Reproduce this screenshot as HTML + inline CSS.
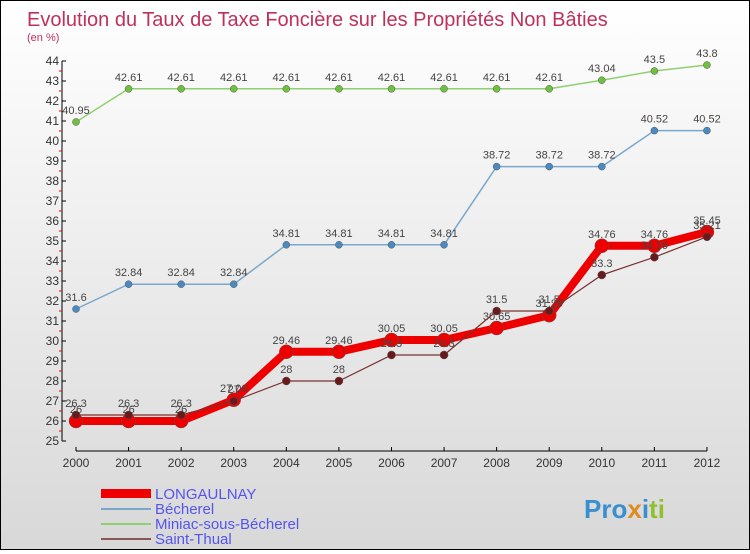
<!DOCTYPE html>
<html><head><meta charset="utf-8"><style>
body{margin:0;width:750px;height:550px;overflow:hidden;font-family:"Liberation Sans",sans-serif}
#c{position:relative;width:748px;height:548px;border:1px solid #000;background:linear-gradient(#fff,#d8d8d8)}
</style></head><body>
<div id="c">
<svg id="s" width="748" height="548">
<text x="26" y="25" font-size="20" fill="#c0305a">Evolution du Taux de Taxe Foncière sur les Propriétés Non Bâties</text>
<text x="26" y="40" font-size="11" fill="#c0305a">(en %)</text>
<g id="g"></g>
<g>
<rect x="100" y="488" width="50" height="9" fill="#e00"/>
<text x="154" y="498" font-size="15" fill="#5555ee">LONGAULNAY</text>
<rect x="100" y="507" width="50" height="2" fill="#7aa8cc"/>
<text x="154" y="513" font-size="15" fill="#5555ee">Bécherel</text>
<rect x="100" y="522" width="50" height="2" fill="#90d070"/>
<text x="154" y="528" font-size="15" fill="#5555ee">Miniac-sous-Bécherel</text>
<rect x="100" y="537" width="50" height="2" fill="#8a5555"/>
<text x="154" y="543" font-size="15" fill="#5555ee">Saint-Thual</text>
</g>
<text x="583" y="517" font-size="26" font-weight="bold"><tspan fill="#3a8fd0">Pro</tspan><tspan fill="#e08a20">x</tspan><tspan fill="#3a8fd0">i</tspan><tspan fill="#90c030">ti</tspan></text>
</svg></div>
<script>
const years=[2000,2001,2002,2003,2004,2005,2006,2007,2008,2009,2010,2011,2012];
const longaulnay=[26,26,26,27.06,29.46,29.46,30.05,30.05,30.65,31.29,34.76,34.76,35.45];
const becherel=[31.6,32.84,32.84,32.84,34.81,34.81,34.81,34.81,38.72,38.72,38.72,40.52,40.52];
const miniac=[40.95,42.61,42.61,42.61,42.61,42.61,42.61,42.61,42.61,42.61,43.04,43.5,43.8];
const saintThual=[26.3,26.3,26.3,27,28,28,29.3,29.3,31.5,31.5,33.3,34.19,35.21];
const yTicks=[25,26,27,28,29,30,31,32,33,34,35,36,37,38,39,40,41,42,43,44];
const NS="http://www.w3.org/2000/svg",g=document.getElementById('g');
const X=i=>75+i*52.58, Y=v=>440-(v-25)*20;
function mk(t,a){const e=document.createElementNS(NS,t);for(const k in a)e.setAttribute(k,a[k]);g.appendChild(e);return e;}
let e=mk('line',{x1:61,y1:60,x2:61,y2:440,stroke:'#000'});


e=mk('line',{x1:75,y1:450,x2:706,y2:450,stroke:'#000'});


yTicks.forEach(v=>{
 let t=mk('line',{x1:61,y1:Y(v),x2:65,y2:Y(v),stroke:'#000'});
 
 
 if(v<44){t=mk('line',{x1:58,y1:Y(v+0.5),x2:61,y2:Y(v+0.5),stroke:'#e00'});
 
 }
 t=mk('text',{x:58,y:Y(v)+4,'font-size':12,fill:'#333','text-anchor':'end'});t.textContent=v;
 
 
});
years.forEach((y,i)=>{
 let t=mk('line',{x1:X(i),y1:446,x2:X(i),y2:450,stroke:'#000'});
 
 
 t=mk('text',{x:X(i),y:466,'font-size':12,fill:'#333','text-anchor':'middle'});t.textContent=y;
 
 
});
function series(name,vals,col,w,r,dot,lo){
 const p=mk('polyline',{points:vals.map((v,i)=>X(i)+','+Y(v)).join(' '),fill:'none',stroke:col,'stroke-width':w,'stroke-linejoin':'round'});
 
 
 vals.forEach((v,i)=>{
  const c=mk('circle',{cx:X(i),cy:Y(v),r:r,fill:dot,stroke:'#555','stroke-width':0.5});
  
  
  const t=mk('text',{x:X(i),y:Y(v)-8-lo,'font-size':11,fill:'#444','text-anchor':'middle'});t.textContent=v;
  
  
 });
}
series('miniac',miniac,'#90d070',1.5,3.5,'#70c040',0);
series('becherel',becherel,'#7aa8cc',1.5,3.5,'#4a8ac0',0);
series('longaulnay',longaulnay,'#ee0000',8,7,'#ee0000',0);
series('saint-thual',saintThual,'#7a3030',1.2,4,'#6a1a1a',0);
</script>
</body></html>
